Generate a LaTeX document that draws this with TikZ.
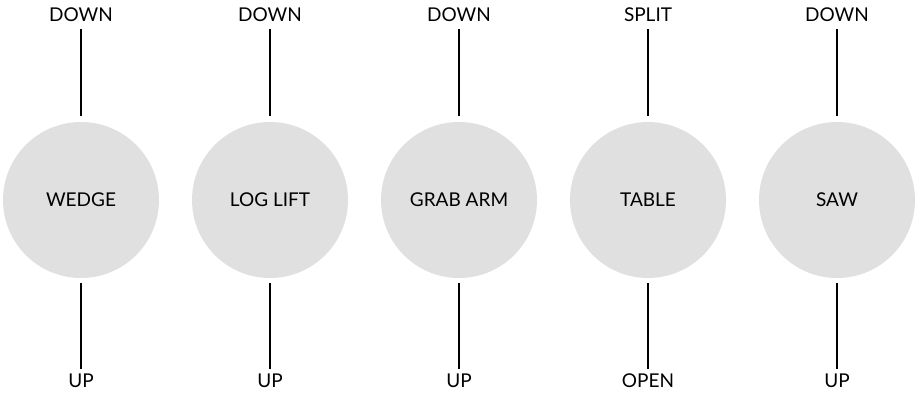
\documentclass[tikz,border=0pt]{standalone}
\usepackage{fontspec}
\setmainfont{Lato}
\definecolor{discgray}{HTML}{E0E0E0}
\begin{document}
\begin{tikzpicture}[x=1pt,y=-1pt,
  disc/.style={circle,fill=discgray,minimum size=156pt,inner sep=0pt,font=\fontsize{19}{22}\selectfont},
  lbl/.style={font=\fontsize{19}{22}\selectfont,inner sep=0pt,anchor=center},
  conn/.style={line width=1.6pt,black}]
\useasboundingbox (0,0) rectangle (917,394);
\foreach \i/\x/\name/\top/\bot in {1/81/WEDGE/DOWN/UP,2/270/LOG LIFT/DOWN/UP,3/459/GRAB ARM/DOWN/UP,4/648/TABLE/SPLIT/OPEN,5/837/SAW/DOWN/UP}{
  \node[disc] (c\i) at (\x,200) {\name};
  \node[lbl] (t\i) at (\x,15) {\vphantom{DP}\top};
  \node[lbl] (b\i) at (\x,381) {\vphantom{DP}\bot};
  \coordinate (ta\i) at (\x,29);
  \coordinate (tb\i) at (\x,116);
  \coordinate (ba\i) at (\x,283);
  \coordinate (bb\i) at (\x,369);
  \draw[conn] (ta\i) -- (tb\i);
  \draw[conn] (ba\i) -- (bb\i);
}
\end{tikzpicture}
\end{document}
